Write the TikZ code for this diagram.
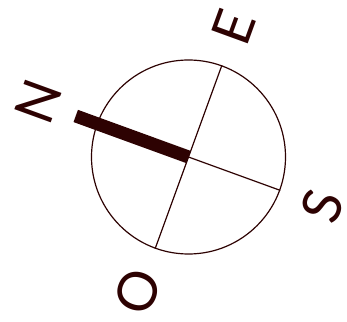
\documentclass[tikz,border=0pt]{standalone}
\usepackage{fontspec}
\setmainfont{Lato}
\usetikzlibrary{calc}
\definecolor{ink}{RGB}{45,2,2}
\begin{document}
\begin{tikzpicture}[x=1pt,y=1pt,
  thinline/.style={draw=ink,line width=1.2pt},
  letter/.style={text=ink,inner sep=0pt,font=\fontsize{54}{54}\selectfont,rotate=70}]
\useasboundingbox (0,0) rectangle (347,321);
\coordinate (c) at (188.5,164);
\node[thinline,circle,minimum size=194pt,inner sep=0pt] (circ) at (c) {};
\draw[thinline] (circ.70) -- (circ.250);
\draw[thinline] (c) -- (circ.340);
\coordinate (nend) at ($(c)+(160:120)$);
\draw[ink,line width=13pt] (c) -- (nend);
\node[letter] (N) at (38,219) {N};
\node[letter] (E) at (234,294) {E};
\node[letter] (S) at (322,115) {S};
\node[letter] (O) at (138,29) {O};
\end{tikzpicture}
\end{document}
